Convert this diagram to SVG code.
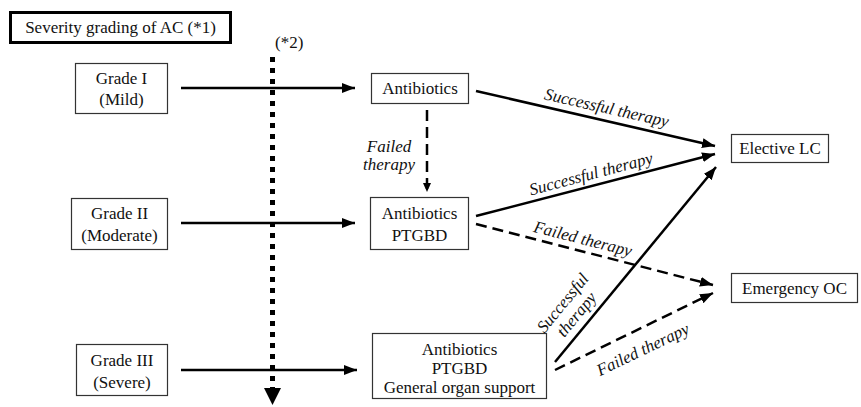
<svg xmlns="http://www.w3.org/2000/svg" width="861" height="407" viewBox="0 0 861 407">
<style>
text{font-family:"Liberation Serif","Times New Roman",serif;font-size:17px;fill:#111}
.c{text-anchor:middle}
.it{font-style:italic}
.box{fill:#fff;stroke:#333;stroke-width:1.2}
.ln{fill:none;stroke:#000;stroke-width:2.5}
.dash{stroke-dasharray:11 6}
</style>
<defs>
<marker id="ah" markerUnits="userSpaceOnUse" markerWidth="14" markerHeight="12" refX="13" refY="5" orient="auto">
<path d="M0,0 L13,5 L0,10 Z" fill="#000"/>
</marker>
<marker id="ahs" markerUnits="userSpaceOnUse" markerWidth="10" markerHeight="10" refX="9" refY="4" orient="auto">
<path d="M0,0 L9,4 L0,8 Z" fill="#000"/>
</marker>
</defs>
<rect width="861" height="407" fill="#fff"/>

<g id="title">
<rect x="10.5" y="12.5" width="220" height="30" fill="#fff" stroke="#000" stroke-width="3"/>
<text x="120.5" y="33" class="c">Severity grading of AC (*1)</text>
</g>

<g id="grade1">
<rect class="box" x="75.5" y="63.5" width="92" height="50"/>
<text x="121.5" y="84" class="c">Grade I</text>
<text x="121.5" y="105" class="c">(Mild)</text>
</g>
<g id="grade2">
<rect class="box" x="71.5" y="198.5" width="96" height="51"/>
<text x="119.5" y="219" class="c">Grade II</text>
<text x="119.5" y="241" class="c">(Moderate)</text>
</g>
<g id="grade3">
<rect class="box" x="76.5" y="344.5" width="91" height="51"/>
<text x="122" y="366" class="c">Grade III</text>
<text x="122" y="388" class="c">(Severe)</text>
</g>

<g id="abx1">
<rect class="box" x="371.5" y="73.5" width="97" height="30"/>
<text x="420" y="94" class="c">Antibiotics</text>
</g>
<g id="abx2">
<rect class="box" x="370.5" y="197.5" width="98" height="52"/>
<text x="419.5" y="219" class="c">Antibiotics</text>
<text x="419.5" y="241" class="c">PTGBD</text>
</g>
<g id="abx3">
<rect class="box" x="372.5" y="333.5" width="174" height="65"/>
<text x="459.5" y="355" class="c">Antibiotics</text>
<text x="459.5" y="374" class="c">PTGBD</text>
<text x="459.5" y="393" class="c">General organ support</text>
</g>

<g id="electiveLC">
<rect class="box" x="731.5" y="134.5" width="97" height="28"/>
<text x="780" y="154" class="c">Elective LC</text>
</g>
<g id="emergencyOC">
<rect class="box" x="731.5" y="273.5" width="126" height="29"/>
<text x="794.5" y="294" class="c">Emergency OC</text>
</g>

<g id="connectors">
<path class="ln" d="M181,88 H355" marker-end="url(#ah)"/>
<path class="ln" d="M181,223 H355" marker-end="url(#ah)"/>
<path class="ln" d="M181,370 H357" marker-end="url(#ah)"/>
<path class="ln dash" d="M427,110 V192" stroke-dasharray="12 7" marker-end="url(#ahs)"/>
<path class="ln" d="M476,91 L715,146" marker-end="url(#ah)"/>
<path class="ln" d="M476,216 L715,154" marker-end="url(#ah)"/>
<path class="ln" d="M555,362 L716,167" marker-end="url(#ah)"/>
<path class="ln dash" d="M476,224 L713,285" marker-end="url(#ah)"/>
<path class="ln dash" d="M555,370 L713,293" marker-end="url(#ah)"/>
<path d="M272.5,57 V388" fill="none" stroke="#000" stroke-width="5" stroke-dasharray="5 6"/>
<path d="M264,388 L281,388 L272.5,405 Z" fill="#000"/>
</g>

<g id="labels">
<text x="275" y="48">(*2)</text>
<text x="389" y="152" class="c it">Failed</text>
<text x="389" y="170" class="c it">therapy</text>
<text class="c it" transform="translate(604,120) rotate(12.7)" y="-7">Successful therapy</text>
<text class="c it" transform="translate(594,185) rotate(-14.8)" y="-6">Successful therapy</text>
<text class="c it" transform="translate(580,250) rotate(14.4)" y="-6">Failed therapy</text>
<text class="c it" transform="translate(587,323) rotate(-50.5)" y="-26">Successful</text>
<text class="c it" transform="translate(587,323) rotate(-50.5)" y="-8">therapy</text>
<text class="c it" transform="translate(634,331) rotate(-25.7)" y="26">Failed therapy</text>
</g>
</svg>
